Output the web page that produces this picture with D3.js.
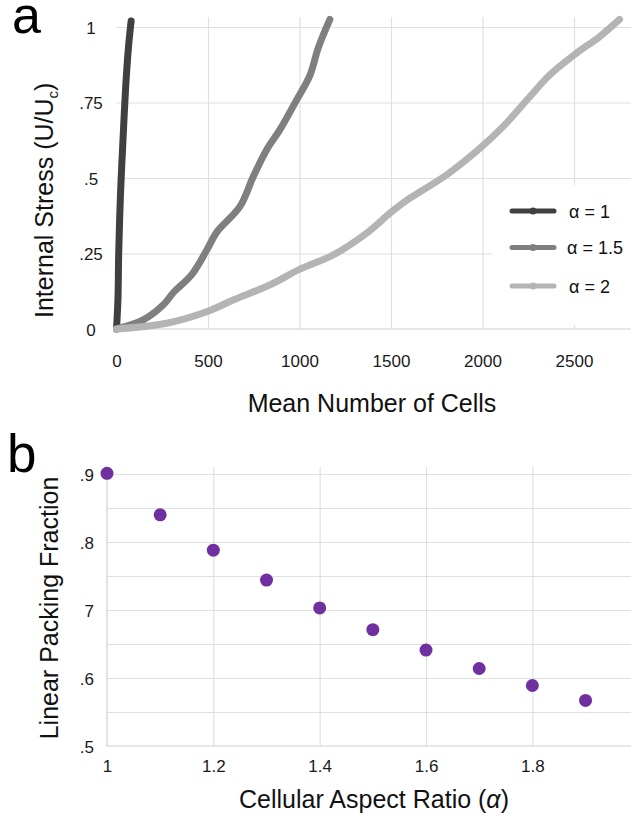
<!DOCTYPE html>
<html>
<head>
<meta charset="utf-8">
<script src="https://cdn.jsdelivr.net/npm/d3@7"></script>
<style>
  body { margin: 0; background: #fff; }
  svg { display: block; font-family: "Liberation Sans", Arial, sans-serif; }
</style>
</head>
<body>
<svg id="figure" width="631" height="821"></svg>
<script>
// panel a: internal stress vs mean number of cells
var stressTicks = [0, 0.25, 0.5, 0.75, 1];
var stressLabels = ["0", ".25", ".5", ".75", "1"];
var cellTicks = [0, 500, 1000, 1500, 2000, 2500];
var seriesNames = ["\u03b1 = 1", "\u03b1 = 1.5", "\u03b1 = 2"];
var seriesColors = ["#404040", "#7f7f7f", "#b4b4b4"];
var alpha1 = [[0, 0], [8, 0.1], [12, 0.25], [22, 0.45], [35, 0.62], [50, 0.8], [65, 0.93], [80, 1.02]];
var alpha15 = [[0, 0], [146, 0.03], [256, 0.08], [310, 0.12], [411, 0.18], [492, 0.26], [547, 0.32],
               [674, 0.405], [747, 0.504], [820, 0.593], [893, 0.66], [984, 0.758], [1057, 0.84],
               [1102, 0.93], [1166, 1.025]];
var alpha2 = [[0, 0], [274, 0.019], [492, 0.057], [638, 0.096], [838, 0.146], [1002, 0.198],
              [1184, 0.245], [1366, 0.317], [1503, 0.388], [1603, 0.433], [1803, 0.51], [1985, 0.598],
              [2112, 0.67], [2258, 0.769], [2367, 0.841], [2513, 0.913], [2640, 0.968], [2749, 1.025]];

// panel b: linear packing fraction vs aspect ratio
var ratioTicks = [1, 1.2, 1.4, 1.6, 1.8];
var ratioLabels = ["1", "1.2", "1.4", "1.6", "1.8"];
var packTicks = [0.5, 0.6, 0.7, 0.8, 0.9];
var packLabels = [".5", ".6", "7", ".8", ".9"];
var packGrid = [0.55, 0.6, 0.65, 0.7, 0.75, 0.8, 0.85, 0.9];
var aspectRatio = [1.0, 1.1, 1.2, 1.3, 1.4, 1.5, 1.6, 1.7, 1.8, 1.9];
var packing = [0.901, 0.84, 0.788, 0.744, 0.703, 0.671, 0.641, 0.614, 0.589, 0.567];

var gridColor = "#e0e0e0";
var axisColor = "#d0d0d0";
var figure = d3.select("#figure");

function styleGrid(g) {
  g.select(".domain").remove();
  g.selectAll(".tick line").attr("stroke", gridColor).attr("stroke-width", 1.2);
  g.selectAll(".tick text").remove();
}

function styleLabels(g, size) {
  g.select(".domain").remove();
  g.selectAll(".tick line").remove();
  g.selectAll(".tick text").attr("fill", "#1a1a1a").attr("font-size", size);
}

// ---------- panel a ----------
var ax = d3.scaleLinear().domain([0, 3000]).range([116.5, 665.5]);
var ay = d3.scaleLinear().domain([0, 1]).range([329, 27]);
var aTop = 17;
var panelA = figure.append("g");

panelA.append("g")
  .attr("transform", "translate(" + ax(0) + ",0)")
  .call(d3.axisLeft(ay).tickValues(stressTicks.slice(1)).tickSize(-(631 - ax(0))))
  .call(styleGrid);

panelA.append("g")
  .attr("transform", "translate(0," + ay(0) + ")")
  .call(d3.axisBottom(ax).tickValues(cellTicks.slice(1)).tickSize(-(ay(0) - aTop)))
  .call(styleGrid);

panelA.append("line")
  .attr("x1", ax(0)).attr("x2", 631)
  .attr("y1", ay(0)).attr("y2", ay(0))
  .attr("stroke", axisColor).attr("stroke-width", 1.2);

// legend background hides the grid behind it
panelA.append("rect")
  .attr("x", 492).attr("y", 185)
  .attr("width", 139).attr("height", 140)
  .attr("fill", "#fff");

panelA.append("g")
  .attr("transform", "translate(" + ax(0) + ",0)")
  .call(d3.axisLeft(ay).tickValues(stressTicks).tickFormat(function(d, i) { return stressLabels[i]; }))
  .call(styleLabels, 17)
  .selectAll(".tick text")
  .attr("text-anchor", "middle").attr("x", -25.5).attr("dy", "0.36em");

panelA.append("g")
  .attr("transform", "translate(0," + ay(0) + ")")
  .call(d3.axisBottom(ax).tickValues(cellTicks).tickFormat(d3.format("d")))
  .call(styleLabels, 17)
  .selectAll(".tick text")
  .attr("y", 37.5).attr("dy", 0);

var line = d3.line()
  .x(function(d) { return ax(d[0]); })
  .y(function(d) { return ay(d[1]); })
  .curve(d3.curveCatmullRom.alpha(0.5));

[alpha1, alpha15, alpha2].forEach(function(s, i) {
  panelA.append("path")
    .attr("d", line(s))
    .attr("fill", "none")
    .attr("stroke", seriesColors[i])
    .attr("stroke-width", 7)
    .attr("stroke-linecap", "round")
    .attr("stroke-linejoin", "round");
});

var legend = panelA.append("g");
seriesNames.forEach(function(name, i) {
  var ly = [211, 247.5, 286][i];
  legend.append("line")
    .attr("x1", 512).attr("x2", 554)
    .attr("y1", ly).attr("y2", ly)
    .attr("stroke", seriesColors[i]).attr("stroke-width", 5)
    .attr("stroke-linecap", "round");
  legend.append("circle")
    .attr("cx", 533).attr("cy", ly).attr("r", 3.5)
    .attr("fill", seriesColors[i]);
  legend.append("text")
    .attr("x", i === 1 ? 567 : 569).attr("y", ly + 6.5)
    .attr("font-size", 18).attr("fill", "#111")
    .text(name);
});

panelA.append("text")
  .attr("x", 12).attr("y", 33)
  .attr("font-size", 52).attr("fill", "#000")
  .text("a");

panelA.append("text")
  .attr("x", 372).attr("y", 411.5)
  .attr("text-anchor", "middle")
  .attr("font-size", 25).attr("fill", "#111")
  .text("Mean Number of Cells");

var aTitle = panelA.append("text")
  .attr("transform", "translate(53,318) rotate(-90)")
  .attr("font-size", 25).attr("fill", "#111");
aTitle.append("tspan").text("Internal Stress (U/U");
aTitle.append("tspan").attr("font-size", 15).attr("dy", 5).text("c");
aTitle.append("tspan").attr("dy", -5).text(")");

// ---------- panel b ----------
var bx = d3.scaleLinear().domain([1, 2]).range([107, 638.7]);
var by = d3.scaleLinear().domain([0.5, 0.9]).range([746, 474]);
var bTop = 467;
var panelB = figure.append("g");

panelB.append("g")
  .attr("transform", "translate(" + bx(1) + ",0)")
  .call(d3.axisLeft(by).tickValues(packGrid).tickSize(-(631 - bx(1))))
  .call(styleGrid);

panelB.append("g")
  .attr("transform", "translate(0," + by(0.5) + ")")
  .call(d3.axisBottom(bx).tickValues(ratioTicks.slice(1)).tickSize(-(by(0.5) - bTop)))
  .call(styleGrid);

panelB.append("line")
  .attr("x1", bx(1)).attr("x2", 631)
  .attr("y1", by(0.5)).attr("y2", by(0.5))
  .attr("stroke", axisColor).attr("stroke-width", 1.2);
panelB.append("line")
  .attr("x1", bx(1)).attr("x2", bx(1))
  .attr("y1", by(0.5)).attr("y2", bTop)
  .attr("stroke", axisColor).attr("stroke-width", 1.2);

panelB.append("g")
  .attr("transform", "translate(" + bx(1) + ",0)")
  .call(d3.axisLeft(by).tickValues(packTicks).tickFormat(function(d, i) { return packLabels[i]; }))
  .call(styleLabels, 17)
  .selectAll(".tick text")
  .attr("x", -13).attr("dy", "0.36em");

panelB.append("g")
  .attr("transform", "translate(0," + by(0.5) + ")")
  .call(d3.axisBottom(bx).tickValues(ratioTicks).tickFormat(function(d, i) { return ratioLabels[i]; }))
  .call(styleLabels, 17)
  .selectAll(".tick text")
  .attr("y", 26).attr("dy", 0);

panelB.append("g")
  .selectAll("circle")
  .data(aspectRatio)
  .join("circle")
  .attr("cx", function(d) { return bx(d); })
  .attr("cy", function(d, i) { return by(packing[i]); })
  .attr("r", 6.5)
  .attr("fill", "#7030a0");

panelB.append("text")
  .attr("x", 7).attr("y", 471.5)
  .attr("font-size", 53).attr("fill", "#000")
  .text("b");

var bTitle = panelB.append("text")
  .attr("x", 374).attr("y", 808)
  .attr("text-anchor", "middle")
  .attr("font-size", 25).attr("fill", "#111");
bTitle.append("tspan").text("Cellular Aspect Ratio (");
bTitle.append("tspan").attr("font-style", "italic").text("\u03b1");
bTitle.append("tspan").text(")");

panelB.append("text")
  .attr("transform", "translate(58,608) rotate(-90)")
  .attr("text-anchor", "middle")
  .attr("font-size", 25).attr("fill", "#111")
  .text("Linear Packing Fraction");
</script>
</body>
</html>
